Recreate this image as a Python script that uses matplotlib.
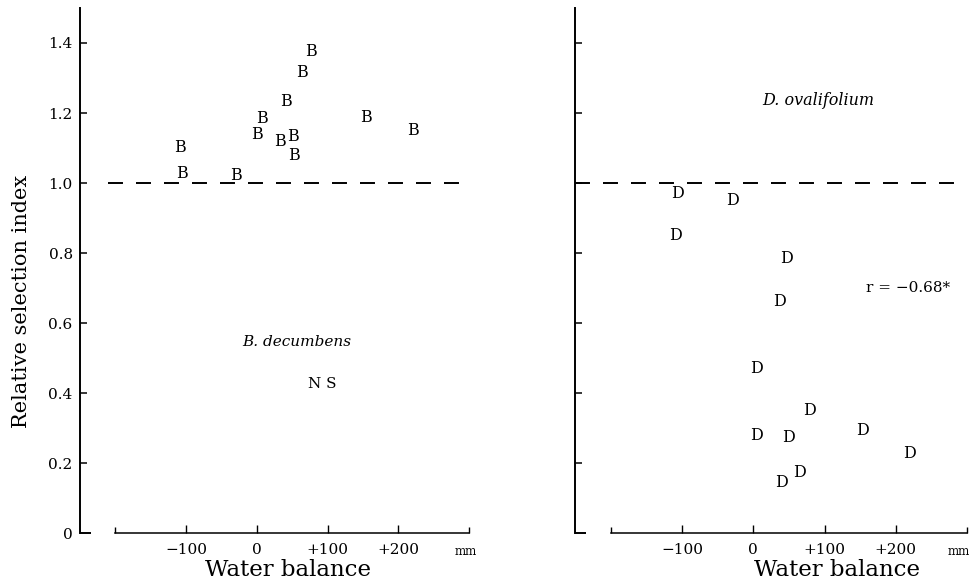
import matplotlib
matplotlib.use("Agg")
import matplotlib.pyplot as plt

plt.rcParams["font.family"] = "DejaVu Serif"

# B. decumbens: water balance (mm) vs relative selection index
b_water = [77, 64, 41, 154, 221, 7, 0, 33, 51, 52, -108, -106, -30]
b_index = [1.375, 1.315, 1.234, 1.187, 1.151, 1.185, 1.139, 1.12, 1.134, 1.08, 1.102, 1.026, 1.021]

# D. ovalifolium: water balance (mm) vs relative selection index
d_water = [-107, -29, -110, 46, 37, 4, 79, 4, 49, 154, 219, 65, 40]
d_index = [0.971, 0.949, 0.849, 0.783, 0.661, 0.471, 0.351, 0.28, 0.272, 0.294, 0.226, 0.172, 0.144]

y_ticks = [0.2, 0.4, 0.6, 0.8, 1.0, 1.2, 1.4]
y_labels = ["0.2", "0.4", "0.6", "0.8", "1.0", "1.2", "1.4"]
x_ticks = [-100, 0, 100, 200]
x_labels = ["\u2212100", "0", "+100", "+200"]
x_ends = [-200, 300]

fig = plt.figure(figsize=(9.71, 5.88), dpi=100)
ax1 = fig.add_axes([0.082, 0.0935, 0.4013, 0.8929])
ax2 = fig.add_axes([0.5925, 0.0935, 0.4033, 0.8929])


def style_axes(ax, show_ylabels, unit_x):
    ax.set_xlim(-250, 300)
    ax.set_ylim(0, 1.5)
    for side in ("top", "right"):
        ax.spines[side].set_visible(False)
    ax.spines["left"].set_linewidth(1.4)
    ax.spines["bottom"].set_linewidth(1.1)
    ax.spines["bottom"].set_bounds(-200, 300)

    ax.set_yticks(y_ticks)
    ax.set_yticks([0], minor=True)
    if show_ylabels:
        ax.set_yticklabels(y_labels)
        ax.set_yticklabels(["0"], minor=True)
    else:
        ax.set_yticklabels([])
        ax.set_yticklabels([], minor=True)
    ax.tick_params(axis="y", which="major", direction="in", length=5, width=1.1,
                   labelsize=11, pad=5)
    ax.tick_params(axis="y", which="minor", direction="in", length=8, width=1.4,
                   labelsize=11, pad=5)

    ax.set_xticks(x_ticks)
    ax.set_xticklabels(x_labels)
    ax.set_xticks(x_ends, minor=True)
    ax.tick_params(axis="x", which="major", direction="in", length=5.5, width=1.0,
                   labelsize=11, pad=7)
    ax.tick_params(axis="x", which="minor", direction="in", length=4, width=1.0)
    ax.text(unit_x, -0.054, "mm", fontsize=8.5, ha="center", va="center")
    ax.set_facecolor("white")


style_axes(ax1, True, 295)
style_axes(ax2, False, 289)

# reference line at index 1.0
ax1.plot([-210, 300], [1.0, 1.0], color="black", lw=1.4, dashes=(7.7, 6.7))
ax2.plot([-250, 300], [1.0, 1.0], color="black", lw=1.4, dashes=(7.7, 6.7))

for x, y in zip(b_water, b_index):
    ax1.text(x, y, "B", fontsize=11.5, ha="center", va="center")
for x, y in zip(d_water, d_index):
    ax2.text(x, y, "D", fontsize=11.5, ha="center", va="center")

ax1.text(57, 0.546, "B. decumbens", fontsize=11, style="italic", ha="center", va="center")
ax1.text(93, 0.426, "N S", fontsize=11, ha="center", va="center")
ax2.text(91, 1.237, "D. ovalifolium", fontsize=11.5, style="italic", ha="center", va="center")
ax2.text(217, 0.70, "r = \u22120.68*", fontsize=11, ha="center", va="center")

ax1.text(44, -0.106, "Water balance", fontsize=16.5, ha="center", va="center")
ax2.text(117, -0.106, "Water balance", fontsize=16.5, ha="center", va="center")
fig.text(22 / 971, 1 - 301 / 588, "Relative selection index", fontsize=15,
         rotation=90, ha="center", va="center")

fig.savefig("out.png", dpi=100, facecolor="white")
